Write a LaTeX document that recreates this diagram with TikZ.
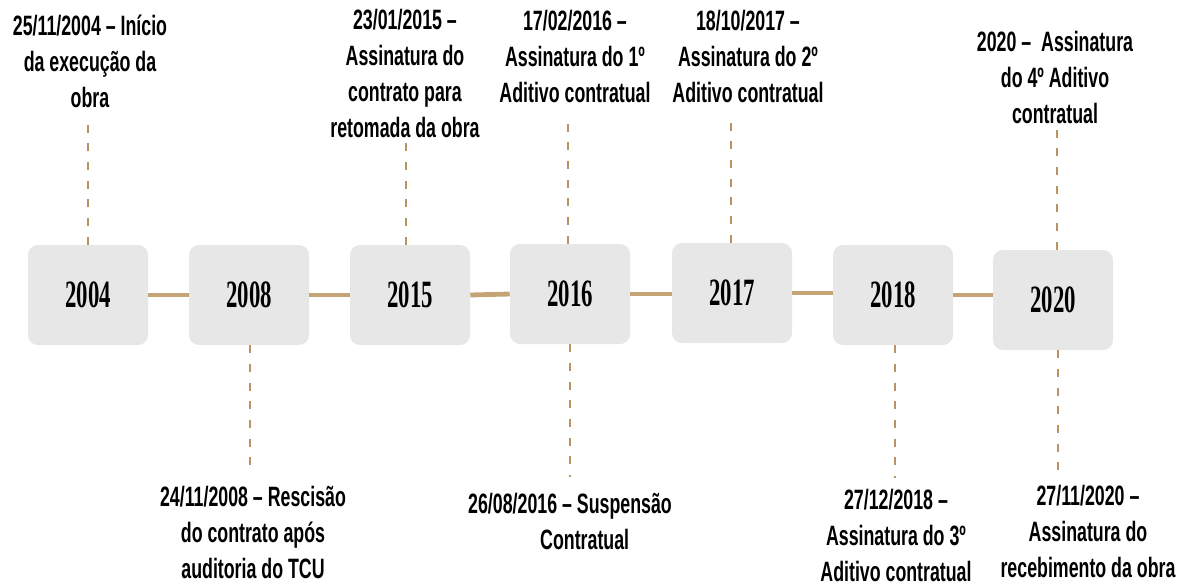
\documentclass[tikz,border=0pt]{standalone}
\usepackage{fontspec}
\newfontfamily\lblfont[FakeStretch=0.635]{Liberation Sans}
\newfontfamily\yrfont[FakeStretch=0.59]{Liberation Serif}
\definecolor{linetan}{RGB}{196,164,116}
\definecolor{dashtan}{RGB}{184,148,100}
\definecolor{boxgray}{RGB}{232,231,232}
\begin{document}
\begin{tikzpicture}[x=0.75pt,y=-0.75pt,
  yearbox/.style={fill=boxgray,draw=none,rounded corners=7.5pt,minimum width=90pt,minimum height=75pt,inner sep=0pt,font=\yrfont\bfseries\fontsize{29}{33}\selectfont},
  lbl/.style={align=center,inner sep=0pt,anchor=base,font=\lblfont\bfseries\fontsize{21}{27}\selectfont},
  link/.style={draw=linetan,line width=3.6pt},
  dashlink/.style={draw=dashtan,line width=1.1pt,dash pattern=on 6pt off 8pt}]
\useasboundingbox (0,0) rectangle (1191,587);
% year boxes
\node[yearbox] (y2004) at (88,295) {2004};
\node[yearbox] (y2008) at (249,295) {2008};
\node[yearbox] (y2015) at (410,295) {2015};
\node[yearbox] (y2016) at (570,294) {2016};
\node[yearbox] (y2017) at (732,293) {2017};
\node[yearbox] (y2018) at (893,295) {2018};
\node[yearbox] (y2020) at (1053,300) {2020};
% connectors
\draw[link] (y2004.east) -- (y2008.west);
\draw[link] (y2008.east) -- (y2015.west);
\draw[link] (y2015.east) -- (y2016.west);
\draw[link] (y2016.east) -- (y2017.west |- y2016.east);
\draw[link] (y2017.east) -- (y2018.west |- y2017.east);
\draw[link] (y2018.east) -- (y2020.west |- y2018.east);
% top labels (anchor = baseline of last line)
\node[lbl] (t2004) at (90,107) {25/11/2004 – Início\\da execução da\\obra};
\node[lbl] (t2015) at (405,137) {23/01/2015 –\\Assinatura do\\contrato para\\retomada da obra};
\node[lbl] (t2016) at (575,102) {17/02/2016 –\\Assinatura do 1º\\Aditivo contratual};
\node[lbl] (t2017) at (748,102) {18/10/2017 –\\Assinatura do 2º\\Aditivo contratual};
\node[lbl] (t2020) at (1055,123) {2020 –\ \ Assinatura\\do 4º Aditivo\\contratual};
% bottom labels
\node[lbl] (b2008) at (253,578) {24/11/2008 – Rescisão\\do contrato após\\auditoria do TCU};
\node[lbl] (b2016) at (570,549) {26/08/2016 – Suspensão\\\hspace*{22pt}Contratual};
\node[lbl] (b2018) at (896,581) {27/12/2018 –\\Assinatura do 3º\\Aditivo contratual};
\node[lbl] (b2020) at (1088,577) {27/11/2020 –\\Assinatura do\\recebimento da obra};
% dashed leaders
\coordinate (d2004) at (88,118);
\coordinate (d2015) at (406,143);
\coordinate (d2016) at (568,115);
\coordinate (d2017) at (731,115);
\coordinate (d2020) at (1057,125);
\coordinate (e2008) at (250,475);
\coordinate (e2016) at (570,477);
\coordinate (e2018) at (895,478);
\coordinate (e2020) at (1058,470);
\draw[dashlink] (y2004.north) -- (d2004);
\draw[dashlink] (y2015.north -| d2015) -- (d2015);
\draw[dashlink] (y2016.north -| d2016) -- (d2016);
\draw[dashlink] (y2017.north -| d2017) -- (d2017);
\draw[dashlink] (y2020.north -| d2020) -- (d2020);
\draw[dashlink] (y2008.south -| e2008) -- (e2008);
\draw[dashlink] (y2016.south -| e2016) -- (e2016);
\draw[dashlink] (y2018.south -| e2018) -- (e2018);
\draw[dashlink] (y2020.south -| e2020) -- (e2020);
\end{tikzpicture}
\end{document}
